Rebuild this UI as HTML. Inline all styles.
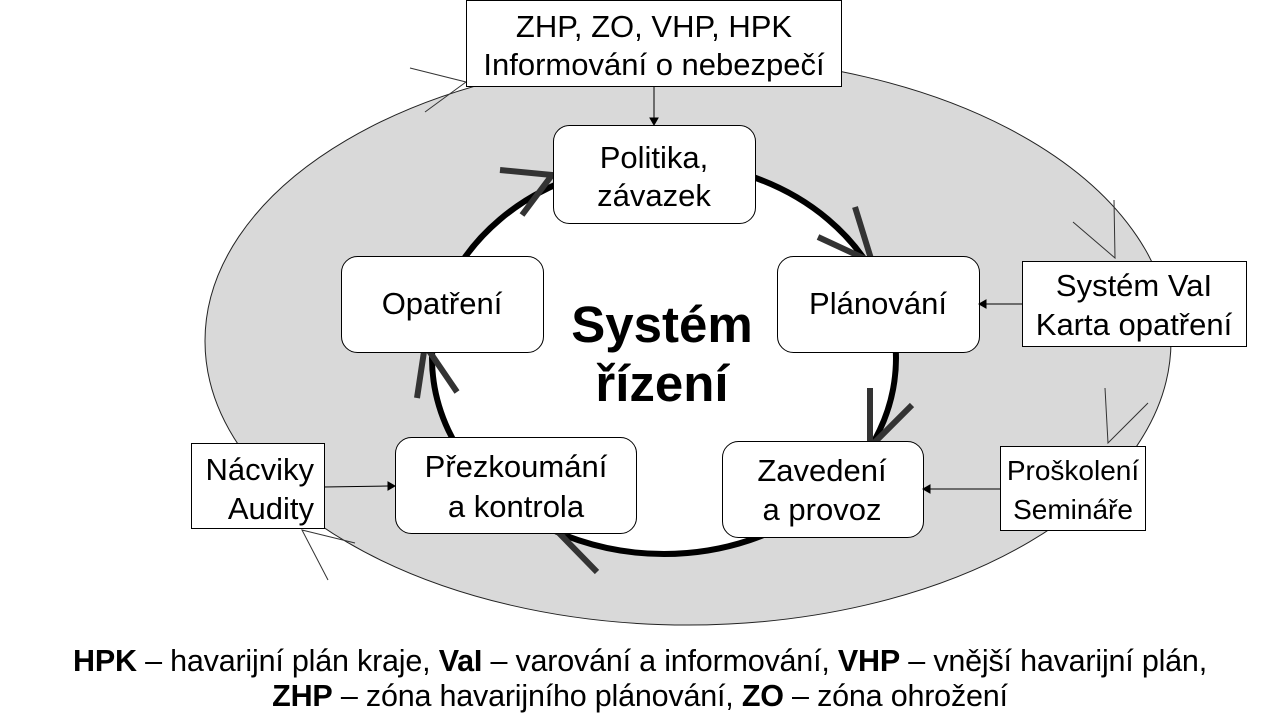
<!DOCTYPE html>
<html><head><meta charset="utf-8"><style>
body{margin:0;width:1280px;height:720px;background:#fff;overflow:hidden;font-family:"Liberation Sans",sans-serif;}
svg{position:absolute;left:0;top:0}
.t{font-family:"Liberation Sans",sans-serif;font-size:31px;fill:#000;text-anchor:middle}
.f{position:absolute;left:0;width:1280px;text-align:center;font-size:30.5px;color:#000;white-space:nowrap;letter-spacing:-0.2px}
</style></head><body>
<svg width="1280" height="720">
<ellipse cx="688" cy="341" rx="483" ry="284" fill="#d9d9d9" stroke="#222" stroke-width="1"/>
<ellipse cx="664" cy="358" rx="232" ry="196" fill="#fff" stroke="#000" stroke-width="6"/>
<g stroke="#333" stroke-width="1" fill="none">
<polyline points="410,68 466,82 425,112"/>
<polyline points="1073,222 1115,258 1114,200"/>
<polyline points="1105,388 1108,443 1148,403"/>
<polyline points="355,543 302,530 328,580"/>
</g>
<g stroke="#333" stroke-width="6" fill="none">
<polyline points="500,170 552,175 522,215"/>
<polyline points="818,237 872,262 855,207"/>
<polyline points="870,388 870,447 912,405"/>
<polyline points="612,527 558,532 597,572"/>
<polyline points="417,398 425,345 457,392"/>
</g>
<g stroke="#000" stroke-width="1" fill="#fff">
<rect x="466.5" y="0.5" width="375" height="86"/>
<rect x="1022.5" y="261.5" width="224" height="85"/>
<rect x="1000.5" y="446.5" width="145" height="84"/>
<rect x="191.5" y="443.5" width="133" height="85"/>
<rect x="553.5" y="125.5" width="202" height="98" rx="16"/>
<rect x="777.5" y="256.5" width="202" height="96" rx="16"/>
<rect x="341.5" y="256.5" width="202" height="96" rx="16"/>
<rect x="395.5" y="437.5" width="241" height="96" rx="16"/>
<rect x="722.5" y="441.5" width="201" height="96" rx="16"/>
</g>
<g stroke="#000" stroke-width="1" fill="#000">
<line x1="654" y1="87" x2="654" y2="118"/><polygon points="650,118 658,118 654,125"/>
<line x1="1022" y1="304" x2="986" y2="304"/><polygon points="986,300 986,308 979,304"/>
<line x1="1000" y1="489" x2="930" y2="489"/><polygon points="930,485 930,493 923,489"/>
<line x1="324" y1="487" x2="388" y2="486"/><polygon points="388,482 388,490 395,486"/>
</g>
<text class="t" x="654" y="37">ZHP, ZO, VHP, HPK</text>
<text class="t" x="654" y="75">Informování o nebezpečí</text>
<text class="t" x="654" y="168">Politika,</text>
<text class="t" x="654" y="206">závazek</text>
<text class="t" x="878" y="314">Plánování</text>
<text class="t" x="442" y="314">Opatření</text>
<text class="t" x="516" y="477">Přezkoumání</text>
<text class="t" x="516" y="517">a kontrola</text>
<text class="t" x="822" y="481">Zavedení</text>
<text class="t" x="822" y="520">a provoz</text>
<text class="t" x="1134" y="296">Systém VaI</text>
<text class="t" x="1134" y="335">Karta opatření</text>
<text class="t" x="1073" y="480" style="font-size:28px">Proškolení</text>
<text class="t" x="1073" y="519" style="font-size:28px">Semináře</text>
<text class="t" x="314" y="480" style="text-anchor:end">Nácviky</text>
<text class="t" x="314" y="519" style="text-anchor:end">Audity</text>
<text class="t" x="662" y="342" style="font-size:51px;font-weight:bold">Systém</text>
<text class="t" x="662" y="401" style="font-size:51px;font-weight:bold">řízení</text>
</svg>
<div class="f" style="top:644px"><b>HPK</b> – havarijní plán kraje, <b>VaI</b> – varování a informování, <b>VHP</b> – vnější havarijní plán,</div>
<div class="f" style="top:679px"><b>ZHP</b> – zóna havarijního plánování, <b>ZO</b> – zóna ohrožení</div>
</body></html>
